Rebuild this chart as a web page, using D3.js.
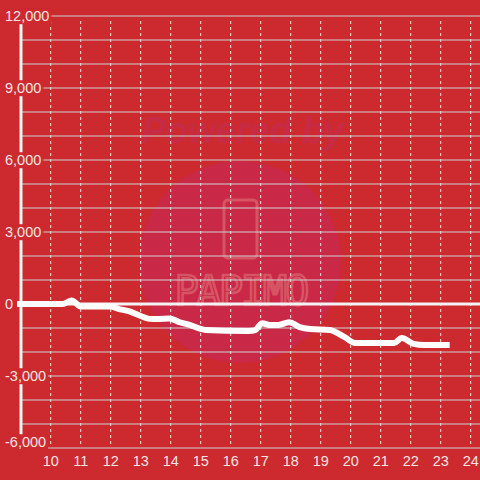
<!DOCTYPE html>
<html><head><meta charset="utf-8">
<script src="https://cdn.jsdelivr.net/npm/d3@7"></script>
<style>html,body{margin:0;padding:0;background:#cc2a2f;}svg{display:block;}</style>
</head><body>
<script>
const hours = [8.88, 10.4, 10.7, 11.0, 12.0, 12.25, 12.6, 13.0, 13.3, 13.55, 13.95, 14.3, 14.65, 15.0, 15.15, 16.6, 16.8, 17.05, 17.3, 17.6, 17.95, 18.3, 18.65, 19.3, 19.8, 20.15, 21.45, 21.7, 22.1, 22.45, 23.3];
const values = [0, 0, 150, -100, -100, -200, -300, -500, -620, -630, -600, -760, -880, -1040, -1080, -1120, -1100, -800, -880, -870, -760, -960, -1040, -1080, -1380, -1620, -1620, -1420, -1660, -1710, -1710];
const yTicks = [12000, 9000, 6000, 3000, 0, -3000, -6000];
const yGrid = d3.range(-6000, 12001, 1000);
const xTicks = [10, 11, 12, 13, 14, 15, 16, 17, 18, 19, 20, 21, 22, 23, 24];

const W = 480, H = 480;
const svg = d3.select("body").append("svg").attr("width", W).attr("height", H);
svg.append("rect").attr("width", W).attr("height", H).attr("fill", "#cc2a2f");

const x = d3.scaleLinear().domain([9, 24.31]).range([20.7, 480]);
const y = d3.scaleLinear().domain([-6000, 12000]).range([448, 16]);

// watermark
const wm = svg.append("g");
wm.append("circle").attr("cx", 240).attr("cy", 262).attr("r", 101).attr("fill", "#c92846");
wm.append("text").attr("x", 243).attr("y", 143).attr("text-anchor", "middle")
  .attr("font-family", "Liberation Sans, Arial, sans-serif").attr("font-size", 36)
  .attr("font-weight", "bold").attr("font-style", "italic").attr("fill", "#c72a44").text("Powered by");
wm.append("rect").attr("x", 224).attr("y", 200).attr("width", 33).attr("height", 58).attr("rx", 4)
  .attr("fill", "none").attr("stroke", "#d65565").attr("stroke-width", 3);
wm.append("text").attr("x", 241).attr("y", 305).attr("text-anchor", "middle")
  .attr("font-family", "DejaVu Sans Mono, monospace").attr("font-size", 40)
  .attr("fill", "none").attr("stroke", "#d65565").attr("stroke-width", 2.5).attr("letter-spacing", -2).text("PAPIMO");

// horizontal grid
svg.append("g").selectAll("line").data(yGrid).join("line")
  .attr("x1", 21).attr("x2", W).attr("y1", d => y(d)).attr("y2", d => y(d))
  .attr("stroke", "#cfcfcf").attr("stroke-width", 1.2);

// vertical dashed grid
svg.append("g").selectAll("line").data(xTicks).join("line")
  .attr("x1", d => x(d)).attr("x2", d => x(d)).attr("y1", 21).attr("y2", 447)
  .attr("stroke", "#e6e6e6").attr("stroke-width", 1).attr("stroke-dasharray", "3,3");

// zero line
svg.append("line").attr("x1", 17).attr("x2", W).attr("y1", y(0)).attr("y2", y(0))
  .attr("stroke", "#f3f3f3").attr("stroke-width", 3);

// y axis line
svg.append("line").attr("x1", 21).attr("x2", 21).attr("y1", 16).attr("y2", 448)
  .attr("stroke", "#f3f3f3").attr("stroke-width", 3);

// data line
const line = d3.line().x((d, i) => x(hours[i])).y(d => y(d)).curve(d3.curveMonotoneX);
svg.append("path").datum(values).attr("d", line)
  .attr("fill", "none").attr("stroke", "#ffffff").attr("stroke-width", 6)
  .attr("stroke-linejoin", "round");

// y labels with background
const fmt = d3.format(",");
const yl = svg.append("g");
yTicks.forEach((t, i) => {
  const g = yl.append("g");
  const yy = y(t) + (i === yTicks.length - 1 ? -6 : 0);
  const txt = g.append("text").attr("x", 5).attr("y", yy).attr("dy", "0.36em")
    .attr("font-family", "Liberation Sans, Arial, sans-serif").attr("font-size", 14.5)
    .attr("fill", "#f4e4e4").text(fmt(t).replace("−", "-"));
  const bb = txt.node().getBBox();
  g.insert("rect", "text").attr("x", bb.x - 2).attr("y", bb.y).attr("width", bb.width + 4).attr("height", bb.height)
    .attr("fill", "#cc2a2f");
});

// x labels
svg.append("g").selectAll("text").data(xTicks).join("text")
  .attr("x", d => x(d)).attr("y", 466).attr("text-anchor", "middle")
  .attr("font-family", "Liberation Sans, Arial, sans-serif").attr("font-size", 14.5)
  .attr("fill", "#f4e4e4").text(d => d);
</script>
</body></html>
